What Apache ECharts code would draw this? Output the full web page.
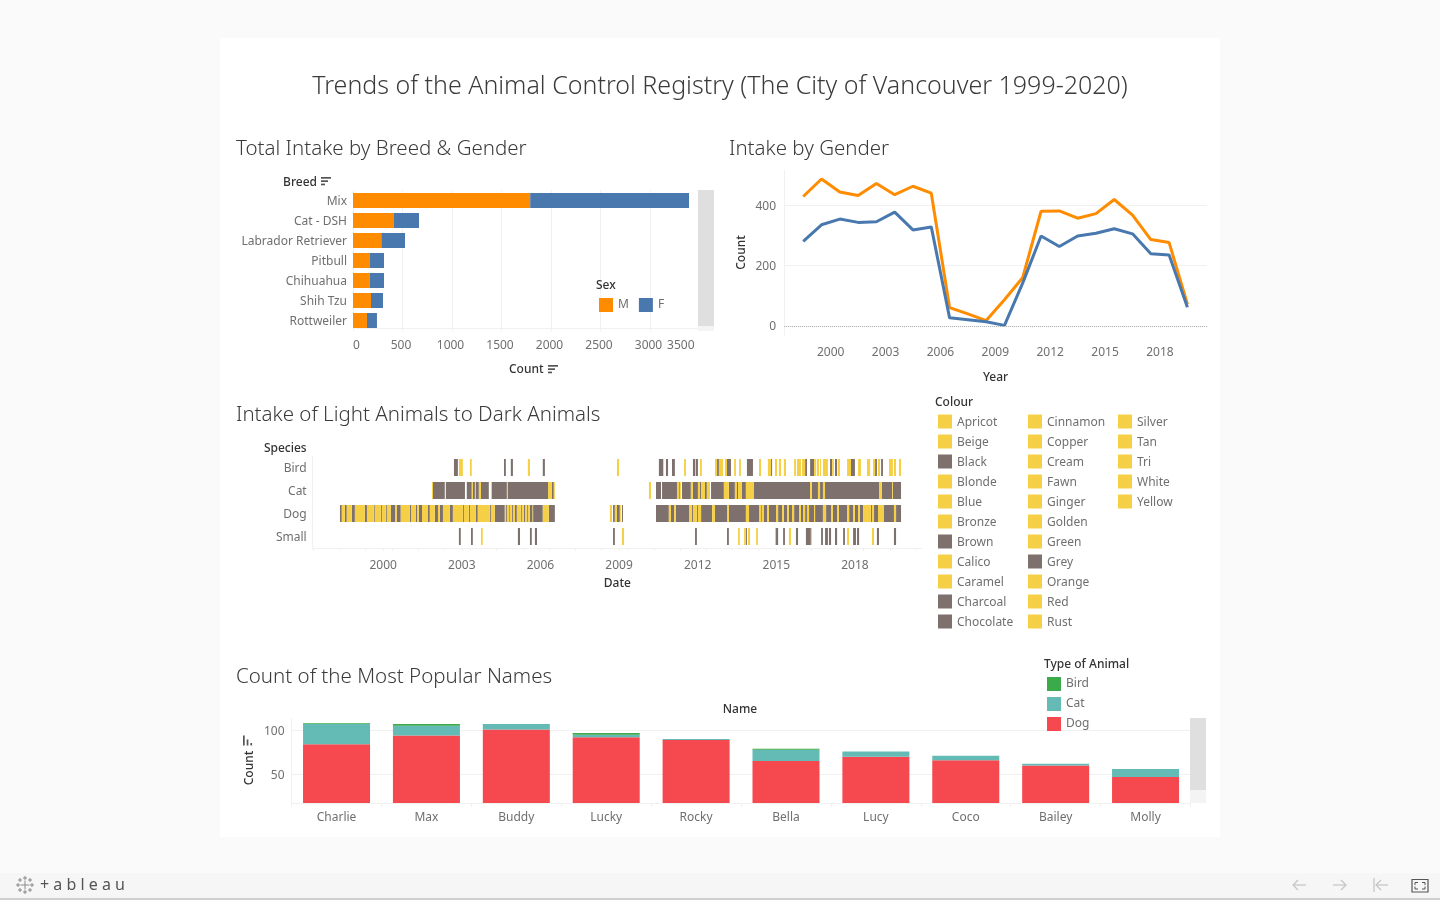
<!DOCTYPE html>
<html><head><meta charset="utf-8">
<style>html,body{margin:0;padding:0;background:#fafafa;overflow:hidden}#c{width:1440px;height:900px}</style>
<script src="https://cdn.jsdelivr.net/npm/echarts@6/dist/echarts.min.js"></script>
</head><body><div id="c"></div>
<script>
const FONT = '"Noto Sans", "Open Sans", sans-serif';
const breeds = ['Mix','Cat - DSH','Labrador Retriever','Pitbull','Chihuahua','Shih Tzu','Rottweiler'];
const breedMale = [1790,414,286,172,170,182,141];
const breedFemale = [1604,253,239,141,143,121,101];
const years = [1998.5,1999.5,2000.5,2001.5,2002.5,2003.5,2004.5,2005.5,2006.5,2007.5,2008.5,2009.5,2010.5,2011.5,2012.5,2013.5,2014.5,2015.5,2016.5,2017.5,2018.5,2019.5];
const yearMale = [430,488,445,433,473,436,464,441,61,40,18,87,161,381,382,358,373,420,368,287,277,72];
const yearFemale = [281,336,355,344,346,378,319,329,27,21,14,2,143,299,264,299,308,323,306,240,236,62];
const yearLabels = [2000,2003,2006,2009,2012,2015,2018];
const yearTicks = [1998,1999,2000,2001,2002,2003,2004,2005,2006,2007,2008,2009,2010,2011,2012,2013,2014,2015,2016,2017,2018,2019,2020];
const dateTicks = [1997.33,1998.33,1999.33,2000,2000.33,2001.33,2002.33,2003,2003.33,2004.33,2005.33,2006,2006.33,2007.33,2008.33,2009,2009.33,2010.33,2011.33,2012,2012.33,2013.33,2014.33,2015,2015.33,2016.33,2017.33,2018,2018.33,2019.33,2020.33];
const species = ['Bird','Cat','Dog','Small'];
const birdDark = [[2002.70,2002.85],[2004.61,2004.68],[2004.87,2004.95],[2006.09,2006.17],[2010.52,2010.68],[2010.79,2010.87],[2011.02,2011.13],[2011.82,2011.90],[2011.93,2012.01],[2012.74,2012.81],[2013.12,2013.27],[2013.88,2014.11],[2014.80,2014.84],[2016.10,2016.17],[2016.29,2016.44],[2017.05,2017.13],[2017.24,2017.32],[2017.85,2018.00],[2018.77,2018.84],[2019.00,2019.07]];
const birdLight = [[2002.89,2003.04],[2003.31,2003.38],[2005.52,2005.60],[2008.92,2009.00],[2010.68,2010.71],[2011.48,2011.55],[2011.90,2011.93],[2012.09,2012.16],[2012.66,2012.74],[2012.81,2012.97],[2013.04,2013.12],[2013.39,2013.46],[2013.58,2013.65],[2014.34,2014.42],[2014.68,2014.80],[2014.95,2015.03],[2015.10,2015.18],[2015.29,2015.37],[2015.68,2015.75],[2015.79,2015.94],[2015.98,2016.10],[2016.44,2016.52],[2016.55,2016.63],[2016.67,2016.71],[2016.78,2016.97],[2017.13,2017.20],[2017.35,2017.43],[2017.70,2017.85],[2018.12,2018.23],[2018.46,2018.58],[2018.69,2018.77],[2018.88,2018.96],[2019.30,2019.45],[2019.49,2019.57],[2019.68,2019.76]];
const catDark = [[2001.90,2002.35],[2002.39,2003.12],[2003.19,2003.38],[2003.42,2003.50],[2003.54,2003.65],[2003.73,2004.03],[2004.15,2004.72],[2004.75,2006.29],[2006.44,2006.51],[2010.41,2010.60],[2010.64,2011.21],[2011.29,2011.32],[2011.40,2011.74],[2011.82,2012.01],[2012.09,2012.13],[2012.28,2012.35],[2012.51,2013.00],[2013.19,2013.42],[2013.50,2013.54],[2013.69,2013.84],[2014.15,2016.29],[2016.36,2016.59],[2016.67,2016.78],[2016.86,2018.92],[2019.03,2019.42],[2019.45,2019.76]];
const catLight = [[2001.86,2001.90],[2003.38,2003.42],[2003.50,2003.54],[2003.65,2003.73],[2004.11,2004.15],[2004.72,2004.75],[2006.29,2006.44],[2006.51,2006.55],[2010.14,2010.22],[2011.21,2011.29],[2011.32,2011.36],[2011.74,2011.82],[2012.01,2012.09],[2012.13,2012.28],[2012.35,2012.47],[2013.00,2013.19],[2013.42,2013.50],[2013.54,2013.69],[2013.84,2014.15],[2016.29,2016.36],[2016.59,2016.67],[2016.78,2016.86],[2018.92,2019.03],[2019.42,2019.45]];
const dogDark = [[1998.35,1998.42],[1998.54,1998.61],[1998.80,1998.92],[1999.30,1999.38],[1999.64,1999.68],[1999.91,1999.95],[2000.10,2000.14],[2000.29,2000.45],[2000.52,2000.67],[2001.02,2001.06],[2001.25,2001.29],[2001.36,2001.48],[2001.71,2001.78],[2001.97,2002.09],[2002.16,2002.28],[2002.54,2002.66],[2003.04,2003.08],[2003.27,2003.31],[2003.54,2003.61],[2004.07,2004.11],[2004.26,2004.64],[2004.68,2004.72],[2004.80,2004.83],[2004.91,2004.95],[2005.03,2005.10],[2005.25,2005.29],[2005.37,2005.41],[2005.48,2005.52],[2005.60,2005.70],[2005.72,2006.09],[2006.32,2006.55],[2008.77,2008.84],[2008.92,2009.03],[2009.11,2009.15],[2010.41,2010.90],[2010.98,2011.10],[2011.17,2011.67],[2011.78,2011.82],[2011.97,2012.01],[2012.13,2012.55],[2012.66,2013.12],[2013.19,2013.84],[2013.96,2014.34],[2014.42,2014.45],[2014.53,2014.65],[2014.72,2014.99],[2015.07,2015.22],[2015.29,2015.41],[2015.48,2015.60],[2015.68,2015.87],[2015.94,2016.02],[2016.10,2016.17],[2016.25,2016.44],[2016.48,2016.78],[2016.90,2017.09],[2017.16,2017.32],[2017.39,2017.70],[2017.78,2017.93],[2018.00,2018.12],[2018.19,2018.31],[2018.61,2018.65],[2018.73,2018.88],[2019.11,2019.49],[2019.57,2019.76]];
const dogLight = [[1998.42,1998.54],[1998.61,1998.80],[1998.92,1999.30],[1999.38,1999.64],[1999.68,1999.91],[1999.95,2000.10],[2000.14,2000.29],[2000.45,2000.52],[2000.67,2001.02],[2001.06,2001.25],[2001.29,2001.36],[2001.48,2001.71],[2001.78,2001.97],[2002.09,2002.16],[2002.28,2002.54],[2002.66,2003.04],[2003.08,2003.27],[2003.31,2003.54],[2003.61,2004.07],[2004.11,2004.26],[2004.64,2004.68],[2004.72,2004.80],[2004.83,2004.91],[2004.95,2005.03],[2005.10,2005.25],[2005.29,2005.37],[2005.41,2005.48],[2005.52,2005.60],[2005.70,2005.72],[2006.09,2006.32],[2008.65,2008.73],[2008.84,2008.92],[2009.03,2009.07],[2010.90,2010.98],[2011.10,2011.17],[2011.67,2011.78],[2011.82,2011.97],[2012.01,2012.13],[2012.55,2012.66],[2013.12,2013.19],[2013.84,2013.96],[2014.34,2014.42],[2014.45,2014.53],[2014.65,2014.72],[2014.99,2015.07],[2015.22,2015.29],[2015.41,2015.48],[2015.60,2015.68],[2015.87,2015.94],[2016.02,2016.10],[2016.17,2016.25],[2016.44,2016.48],[2016.78,2016.90],[2017.09,2017.16],[2017.32,2017.39],[2017.70,2017.78],[2017.93,2018.00],[2018.12,2018.19],[2018.31,2018.61],[2018.65,2018.73],[2018.88,2019.11],[2019.49,2019.57]];
const smallDark = [[2002.89,2002.96],[2003.35,2003.42],[2005.14,2005.22],[2005.60,2005.67],[2005.79,2005.87],[2008.77,2008.84],[2011.90,2011.97],[2013.12,2013.19],[2013.84,2013.88],[2014.99,2015.07],[2015.26,2015.33],[2015.75,2015.83],[2016.13,2016.32],[2016.71,2016.78],[2016.86,2016.97],[2017.01,2017.09],[2017.24,2017.32],[2017.55,2017.62],[2017.93,2018.04],[2018.08,2018.16],[2018.84,2018.92],[2019.49,2019.57]];
const smallLight = [[2003.73,2003.80],[2009.11,2009.19],[2013.54,2013.61],[2013.77,2013.84],[2013.92,2014.00],[2014.23,2014.30],[2014.95,2014.99],[2015.48,2015.56],[2016.32,2016.36],[2017.70,2017.78],[2018.65,2018.73]];
const colourCols = [
 ['Apricot','Beige','Black','Blonde','Blue','Bronze','Brown','Calico','Caramel','Charcoal','Chocolate'],
 ['Cinnamon','Copper','Cream','Fawn','Ginger','Golden','Green','Grey','Orange','Red','Rust'],
 ['Silver','Tan','Tri','White','Yellow']];
const darkColours = ['Black','Brown','Charcoal','Chocolate','Grey'];
const names = ['Charlie','Max','Buddy','Lucky','Rocky','Bella','Lucy','Coco','Bailey','Molly'];
const nameDog = [84,94,101,92,89,65,70,66,60,47];
const nameCat = [23,11,6,3,1,13,6,5,2,9];
const nameBird = [1,2,0,2,0,1,0,0,0,0];

const C = {m:'#ff8c00',f:'#4878ae',dark:'#7d706d',light:'#f5d047',bird:'#3aaa4a',cat:'#64bab5',dog:'#f5484f',
  grid:'#f1f1f1',label:'#6f6f6f',head:'#333333',title:'#3b3b3b'};
const lab = {color:C.label,fontFamily:FONT,fontSize:12};
const yLab = {...lab,verticalAlign:'top',lineHeight:2};
const head = {color:C.head,fontFamily:FONT,fontSize:12,fontWeight:500};
const line = {lineStyle:{color:C.grid,width:1}};

function rect(x,y,w,h,fill,z){return {type:'rect',shape:{x,y,width:w,height:h},style:{fill},z:z||5,silent:true};}
function text(x,y,t,size,fill,align,weight,rot){return {type:'text',x,y:y+1,rotation:rot||0,z:6,silent:true,
  style:{text:t,font:(weight||400)+' '+size+'px '+FONT,fill,textAlign:align||'left',textVerticalAlign:'middle'}};}
function sortIcon(x,y){return [rect(x,y,10,1.7,'#555'),rect(x,y+3.3,7,1.7,'#555'),rect(x,y+6.6,4,1.7,'#555')];}
function polyl(points,stroke,w){return {type:'polyline',shape:{points},style:{stroke,lineWidth:w||1,fill:null},z:6,silent:true};}

const graphics = [
  rect(220,38,1000,799,'#ffffff',-10),
  rect(0,873,1440,25,'#f6f6f6',-10),
  rect(0,898,1440,2,'#cfcfcf',-10),
  text(720,86,'Trends of the Animal Control Registry (The City of Vancouver 1999-2020)',25,C.title,'center',300),
  text(236,148,'Total Intake by Breed & Gender',20.5,C.title,'left',300),
  text(729,148,'Intake by Gender',20.5,C.title,'left',300),
  text(236,414,'Intake of Light Animals to Dark Animals',20.5,C.title,'left',300),
  text(236,676,'Count of the Most Popular Names',20.5,C.title,'left',300),
  ...sortIcon(321,177),...sortIcon(548,365),
  rect(698,190,16,136,'#dfdfdf'),rect(698,326,16,5,'#f4f4f4'),
  rect(1190,718,16,72,'#dfdfdf'),rect(1190,790,16,13,'#f4f4f4'),
  text(596,285,'Sex',12,C.head,'left',500),
  text(935,402,'Colour',12,C.head,'left',500),
  text(1044,664,'Type of Animal',12,C.head,'left',500),
  text(740,709,'Name',12,C.head,'center',500),
  text(250,767,'Count',12,C.head,'center',500,Math.PI/2),
  rect(243,735.5,1.7,10,'#555'),rect(246.7,739.5,1.7,6,'#555'),rect(250.4,743,1.7,2.5,'#555'),
  text(40,884,'+ a b l e a u',16,'#555','left',400),
  polyl([[1293,885],[1306,885]],'#c4c4c4',1.2),polyl([[1298,880],[1293,885],[1298,890]],'#c4c4c4',1.2),
  polyl([[1333,885],[1346,885]],'#c4c4c4',1.2),polyl([[1341,880],[1346,885],[1341,890]],'#c4c4c4',1.2),
  polyl([[1374,878],[1374,892]],'#c4c4c4',1.2),polyl([[1376,885],[1388,885]],'#c4c4c4',1.2),polyl([[1381,880],[1376,885],[1381,890]],'#c4c4c4',1.2),
  {type:'rect',shape:{x:1412,y:879.5,width:16,height:12.5},style:{fill:null,stroke:'#555',lineWidth:1.2},z:6,silent:true},
  polyl([[1415,885],[1415,882.5],[1418,882.5]],'#555',1),polyl([[1422,882.5],[1425,882.5],[1425,885]],'#555',1),
  polyl([[1415,886.5],[1415,889],[1418,889]],'#555',1),polyl([[1422,889],[1425,889],[1425,886.5]],'#555',1)
];
// Tableau mark
[[25,885,4.5],[18,885,2],[32,885,2],[25,878,2],[25,892,2],[20,880,2],[30,880,2],[20,890,2],[30,890,2]].forEach(function(p){
  graphics.push(polyl([[p[0]-p[2],p[1]],[p[0]+p[2],p[1]]],'#8a8a8a',1),polyl([[p[0],p[1]-p[2]],[p[0],p[1]+p[2]]],'#8a8a8a',1));
});
colourCols.forEach(function(col,ci){
  col.forEach(function(name,ri){
    const y=421.5+ri*20,x=938+ci*90;
    graphics.push(rect(x,y-7,14,14,darkColours.includes(name)?C.dark:C.light));
    graphics.push(text(x+19,y+0.5,name,12,C.label,'left',400));
  });
});

function segs(list,row){return list.map(function(s){return [s[0],s[1],row];});}
const darkSegs=[].concat(segs(birdDark,0),segs(catDark,1),segs(dogDark,2),segs(smallDark,3));
const lightSegs=[].concat(segs(birdLight,0),segs(catLight,1),segs(dogLight,2),segs(smallLight,3));
function renderSeg(params,api){
  const a=api.coord([api.value(0),api.value(2)]),b=api.coord([api.value(1),api.value(2)]);
  const h=api.size([0,1])[1]*0.74;
  return {type:'rect',shape:{x:a[0],y:a[1]-h/2,width:b[0]-a[0],height:h},style:{fill:api.visual('color')}};
}
const plainV=v=>String(v);
const option={
  animation:false,
  textStyle:{fontFamily:FONT},
  graphic:graphics,
  legend:[
    {data:['M','F'],left:599,top:298,padding:0,orient:'horizontal',itemWidth:14,itemHeight:14,itemGap:10,selectedMode:false,textStyle:lab,icon:'rect'},
    {data:['Bird','Cat','Dog'],left:1047,top:677,padding:0,orient:'vertical',itemWidth:14,itemHeight:14,itemGap:6,selectedMode:false,textStyle:lab,icon:'rect'}
  ],
  grid:[
    {left:353,top:190.5,width:346.5,height:140},
    {left:784,top:170,width:423,height:165},
    {left:312.7,top:456,width:609.3,height:92},
    {left:291.6,top:718.3,width:898.9,height:84.7}
  ],
  xAxis:[
    {gridIndex:0,type:'value',min:0,max:3500,interval:500,offset:-2,
     name:'Count',nameLocation:'middle',nameGap:35,nameTextStyle:head,
     axisLine:{show:true,...line},axisTick:{show:true,length:3,...line},splitLine:{show:true,...line},
     axisLabel:{...lab,margin:11.5,padding:[0,3,0,0],alignMinLabel:'left',alignMaxLabel:'right',hideOverlap:false,
       formatter:v=>v===3500?'{e|3500}':String(v),rich:{e:{...lab,padding:[0,2,0,0]}}}},
    {gridIndex:1,type:'value',min:1997.45,max:2020.57,
     name:'Year',nameLocation:'middle',nameGap:37,nameTextStyle:head,
     axisLine:{show:true,...line},axisTick:{show:true,length:2,customValues:yearTicks,...line},splitLine:{show:false},
     axisLabel:{...lab,margin:11.5,customValues:yearLabels,formatter:plainV}},
    {gridIndex:2,type:'value',min:1997.31,max:2020.56,
     name:'Date',nameLocation:'middle',nameGap:30,nameTextStyle:head,
     axisLine:{show:true,...line},axisTick:{show:true,length:3,customValues:dateTicks,...line},splitLine:{show:false},
     axisLabel:{...lab,margin:11.5,customValues:yearLabels,formatter:plainV}},
    {gridIndex:3,type:'category',data:names,
     axisLine:{show:true,...line},axisTick:{show:true,length:4,alignWithLabel:false,...line},splitLine:{show:false},
     axisLabel:{...lab,margin:9}}
  ],
  yAxis:[
    {gridIndex:0,type:'category',data:breeds,inverse:true,
     name:'Breed',nameLocation:'start',nameGap:2,nameTextStyle:{...head,align:'right',padding:[0,36,0,0]},
     axisLine:{show:false},axisTick:{show:false},axisLabel:{...yLab,margin:6}},
    {gridIndex:1,type:'value',min:-30,max:518,
     name:'Count',nameLocation:'middle',nameGap:36,nameTextStyle:head,
     axisLine:{show:true,...line},axisTick:{show:false,customValues:[0,200,400]},
     splitLine:{show:true,...line},axisLabel:{...yLab,margin:8,customValues:[0,200,400]}},
    {gridIndex:2,type:'category',data:species,inverse:true,
     name:'Species',nameLocation:'start',nameGap:1,nameTextStyle:{...head,align:'right',padding:[0,6,0,0]},
     axisLine:{show:true,...line},axisTick:{show:false},axisLabel:{...yLab,margin:6}},
    {gridIndex:3,type:'value',min:17.4,max:113.6,
     axisLine:{show:true,...line},axisTick:{show:false,customValues:[50,100]},
     splitLine:{show:true,...line},axisLabel:{...yLab,margin:7,customValues:[50,100]}}
  ],
  series:[
    {name:'M',type:'bar',xAxisIndex:0,yAxisIndex:0,stack:'b',barWidth:15,data:breedMale,itemStyle:{color:C.m}},
    {name:'F',type:'bar',xAxisIndex:0,yAxisIndex:0,stack:'b',barWidth:15,data:breedFemale,itemStyle:{color:C.f}},
    {name:'M',type:'line',xAxisIndex:1,yAxisIndex:1,data:years.map((y,i)=>[y,yearMale[i]]),showSymbol:false,lineStyle:{color:C.m,width:3},itemStyle:{color:C.m},
     markLine:{silent:true,symbol:'none',label:{show:false},lineStyle:{color:'#b5b5b5',type:'dotted',width:1},data:[{yAxis:0}]}},
    {name:'F',type:'line',xAxisIndex:1,yAxisIndex:1,data:years.map((y,i)=>[y,yearFemale[i]]),showSymbol:false,lineStyle:{color:C.f,width:3},itemStyle:{color:C.f}},
    {name:'Dark',type:'custom',xAxisIndex:2,yAxisIndex:2,data:darkSegs,renderItem:renderSeg,itemStyle:{color:C.dark},encode:{x:[0,1],y:2}},
    {name:'Light',type:'custom',xAxisIndex:2,yAxisIndex:2,data:lightSegs,renderItem:renderSeg,itemStyle:{color:C.light},encode:{x:[0,1],y:2}},
    {name:'Dog',type:'bar',xAxisIndex:3,yAxisIndex:3,stack:'n',barWidth:67,data:nameDog,itemStyle:{color:C.dog}},
    {name:'Cat',type:'bar',xAxisIndex:3,yAxisIndex:3,stack:'n',barWidth:67,data:nameCat,itemStyle:{color:C.cat}},
    {name:'Bird',type:'bar',xAxisIndex:3,yAxisIndex:3,stack:'n',barWidth:67,data:nameBird,itemStyle:{color:C.bird}}
  ]
};
echarts.init(document.getElementById('c')).setOption(option);
</script></body></html>
